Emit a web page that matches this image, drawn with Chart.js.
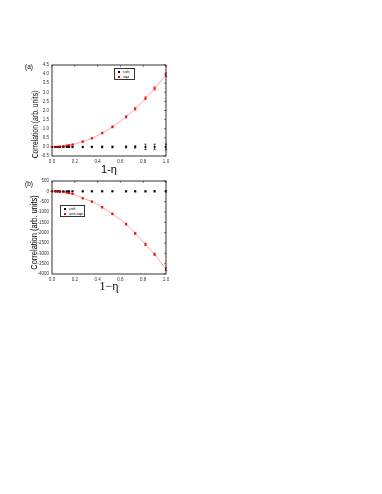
<!DOCTYPE html>
<html><head><meta charset="utf-8">
<script src="https://cdn.jsdelivr.net/npm/chart.js@4"></script>
<style>
body{margin:0;background:#fff;width:382px;height:494px;position:relative;overflow:hidden;font-family:Arial,"Liberation Sans",sans-serif;}
.cv{position:absolute;left:0;}
.lab{position:absolute;font-size:6.5px;color:#000;}
.leg{position:absolute;border:0.6px solid #333;background:#fff;font-size:4px;line-height:5px;padding:0 1px;color:#000;}
.leg span.d{display:inline-block;width:2px;height:2px;margin:0 3px 0 2px;vertical-align:middle;}
</style></head><body>
<div class="cv" style="top:55px;width:175px;height:123px;"><canvas id="ca" width="175" height="123"></canvas></div>
<div class="cv" style="top:170px;width:175px;height:125px;"><canvas id="cb" width="175" height="125"></canvas></div>
<div class="lab" style="left:25px;top:63px;">(a)</div>
<div class="lab" style="left:25px;top:180px;">(b)</div>
<div class="leg" style="left:114px;top:68px;width:17px;"><div><span class="d" style="background:#000"></span>coh</div><div><span class="d" style="background:#e00"></span>sqz</div></div>
<div class="leg" style="left:60px;top:205px;width:21px;"><div><span class="d" style="background:#000"></span>coh</div><div><span class="d" style="background:#e00"></span>anti-sqz</div></div>
<script>
// ---- data ----
const xVals   = [0, 0.03, 0.05, 0.07, 0.10, 0.13, 0.15, 0.18, 0.27, 0.35, 0.44, 0.53, 0.65, 0.73, 0.82, 0.90, 1.00];
const sqz     = [0, 0.004, 0.01, 0.02, 0.04, 0.07, 0.09, 0.13, 0.29, 0.47, 0.76, 1.10, 1.65, 2.09, 2.67, 3.21, 3.97];
const sqzErr  = [0.01,0.01,0.01,0.01,0.01,0.02,0.02,0.02,0.03,0.03,0.04,0.05,0.06,0.07,0.08,0.09,0.10];
const cohA    = [0,0,0,0,0,0,0,0,0,0,0,0,0,0,0,0,0];
const cohAErr = [0.02,0.02,0.02,0.02,0.03,0.03,0.03,0.04,0.04,0.04,0.05,0.05,0.06,0.07,0.15,0.15,0.16];
const antiSqz = [0, -5, -10, -20, -35, -60, -85, -120, -336, -497, -770, -1090, -1587, -2035, -2564, -3045, -3766];
const antiErr = [10,10,10,10,10,15,15,20,25,30,35,40,45,50,55,60,70];
const cohB    = [0,0,0,0,0,0,0,0,0,0,0,0,0,0,0,0,0];
const cohBErr = [15,15,15,15,15,20,20,20,25,25,25,25,30,30,30,30,35];
const xTicks  = ['0.0','0.2','0.4','0.6','0.8','1.0'];
const yTicksA = ['-0.5','0.0','0.5','1.0','1.5','2.0','2.5','3.0','3.5','4.0','4.5'];
const yTicksB = ['-4000','-3500','-3000','-2500','-2000','-1500','-1000','-500','0','500'];
const yTitle  = 'Correlation (arb. units)';

const pts = (ys) => xVals.map((x,i)=>({x:x,y:ys[i]}));

const errPlugin = {
  id:'err',
  afterDatasetsDraw(chart){
    const {ctx, scales:{x,y}} = chart;
    chart.data.datasets.forEach(ds=>{
      if(!ds.err) return;
      ctx.save(); ctx.strokeStyle = ds.pointBorderColor || ds.borderColor; ctx.lineWidth = 0.6;
      ds.data.forEach((p,i)=>{
        const px = x.getPixelForValue(p.x);
        const y1 = y.getPixelForValue(p.y - ds.err[i]), y2 = y.getPixelForValue(p.y + ds.err[i]);
        ctx.beginPath(); ctx.moveTo(px,y1); ctx.lineTo(px,y2);
        ctx.moveTo(px-1.2,y1); ctx.lineTo(px+1.2,y1);
        ctx.moveTo(px-1.2,y2); ctx.lineTo(px+1.2,y2); ctx.stroke();
      });
      ctx.restore();
    });
  }
};
const boxPlugin = {
  id:'box',
  afterDraw(chart, args, opts){
    const {ctx, chartArea:a, scales:{x,y}} = chart;
    ctx.save(); ctx.strokeStyle='#000'; ctx.lineWidth=0.8;
    ctx.strokeRect(a.left,a.top,a.right-a.left,a.bottom-a.top);
    ctx.lineWidth=0.5;
    x.ticks.forEach((t,i)=>{const px=x.getPixelForTick(i); ctx.beginPath(); ctx.moveTo(px,a.top); ctx.lineTo(px,a.top+2); ctx.stroke();});
    y.ticks.forEach((t,i)=>{const py=y.getPixelForTick(i); ctx.beginPath(); ctx.moveTo(a.right,py); ctx.lineTo(a.right-2,py); ctx.stroke();});
    // y-axis title
    ctx.translate(a.left + opts.dx, (a.top+a.bottom)/2 + opts.dy);
    ctx.rotate(-Math.PI/2);
    ctx.font = opts.size + 'px Arial';
    ctx.fillStyle = '#000'; ctx.textAlign='center'; ctx.textBaseline='middle';
    ctx.save(); ctx.scale(opts.sx,1);
    ctx.fillText(opts.text, 0, 0);
    ctx.restore();
    ctx.restore();
  }
};

function makeChart(id, red, redErr, coh, cohErr, yMin, yMax, yStep, yLabels, xTitleFont, xTitle, pad, yW, xH, yt){
  return new Chart(document.getElementById(id), {
    type:'scatter',
    data:{datasets:[
      {label:'fit', data:pts(red), showLine:true, tension:0.4, borderColor:'rgba(255,90,90,0.8)', borderWidth:0.7, pointRadius:0},
      {label:'coh', data:pts(coh), err:cohErr, showLine:false, pointStyle:'rect', pointRadius:1.3, backgroundColor:'#000', borderColor:'#000', pointBorderColor:'#000', borderWidth:0},
      {label:'red', data:pts(red), err:redErr, showLine:false, pointStyle:'rect', pointRadius:1.4, backgroundColor:'#e00', borderColor:'#e00', pointBorderColor:'#e00', borderWidth:0}
    ]},
    options:{
      responsive:false, animation:false, events:[],
      layout:{padding:pad},
      plugins:{legend:{display:false}, tooltip:{enabled:false}, box:yt},
      scales:{
        x:{type:'linear', min:0, max:1, grid:{display:false, drawTicks:true, tickLength:2, color:'#000'}, border:{display:false},
           ticks:{stepSize:0.2, autoSkip:false, maxRotation:0, font:{size:4.5, family:'Arial'}, color:'#333', padding:1,
                  callback:(v)=>{const i=Math.round(v/0.2); return xTicks[i];}},
           title:{display:true, text:xTitle, font:xTitleFont, color:'#000', padding:{top:0,bottom:1}},
           afterFit:(s)=>{s.height=xH;}},
        y:{min:yMin, max:yMax, grid:{display:false, drawTicks:true, tickLength:2, color:'#000'}, border:{display:false},
           ticks:{stepSize:yStep, autoSkip:false, font:{size:4.5, family:'Arial'}, color:'#333', padding:1,
                  callback:(v)=>{const i=Math.round((v-yMin)/yStep); return yLabels[i];}},
           afterFit:(s)=>{s.width=yW;}}
      }
    },
    plugins:[errPlugin, boxPlugin]
  });
}
makeChart('ca', sqz, sqzErr, cohA, cohAErr, -0.5, 4.5, 0.5, yTicksA, {size:11, family:'Arial'}, '1-η', {left:27,right:9,top:10,bottom:0}, 25, 22,
  {text:yTitle, dx:-16, dy:14, size:8.5, sx:0.8});
makeChart('cb', antiSqz, antiErr, cohB, cohBErr, -4000, 500, 500, yTicksB, {size:12, family:'Liberation Serif'}, '1−η', {left:27,right:9,top:11,bottom:0}, 25, 21,
  {text:yTitle, dx:-17, dy:5, size:8.5, sx:0.88});
</script>
</body></html>
